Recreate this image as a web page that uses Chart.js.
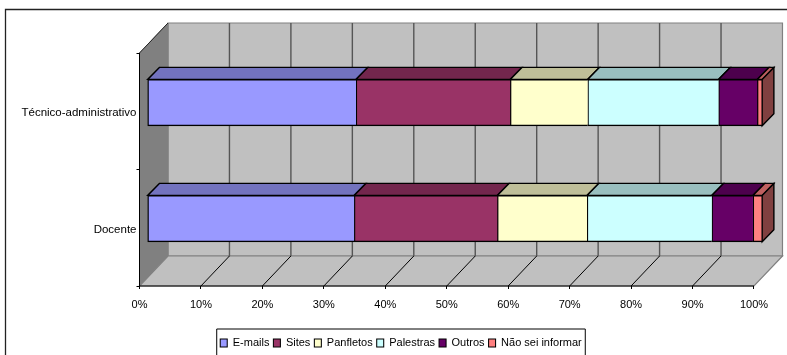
<!DOCTYPE html>
<html>
<head>
<meta charset="utf-8">
<style>html,body{margin:0;padding:0;background:#fff}canvas{display:block}</style>
<script src="https://cdn.jsdelivr.net/npm/chart.js@4"></script>
</head>
<body>
<canvas id="chart" width="787" height="355"></canvas>
<script>
const categories = ['Técnico-administrativo', 'Docente'];
const seriesNames = ['E-mails', 'Sites', 'Panfletos', 'Palestras', 'Outros', 'Não sei informar'];
const emails = [33.9, 33.6];
const sites = [25.1, 23.3];
const panfletos = [12.6, 14.6];
const palestras = [21.3, 20.3];
const outros = [6.3, 6.7];
const naoSei = [0.8, 1.5];
const seriesValues = [emails, sites, panfletos, palestras, outros, naoSei];
const seriesColors = ['#9999FF', '#993366', '#FFFFCC', '#CCFFFF', '#660066', '#FF8080'];
const percentTicks = [0, 10, 20, 30, 40, 50, 60, 70, 80, 90, 100];

const FONT = '"Liberation Sans", Arial, sans-serif';
const LINE = '#000';
// Oblique depth of the chart box and of each bar
const WALL_DX = 28.5, WALL_DY = 30;
const BAR_DX = 11.7, BAR_DY = 12;

function shade(hex, f) {
  const n = parseInt(hex.slice(1), 16);
  const c = [n >> 16, (n >> 8) & 255, n & 255].map(v => Math.round(v * f));
  return `rgb(${c[0]},${c[1]},${c[2]})`;
}

function poly(ctx, pts, fill, stroke, width) {
  ctx.beginPath();
  pts.forEach((p, i) => i ? ctx.lineTo(p[0], p[1]) : ctx.moveTo(p[0], p[1]));
  ctx.closePath();
  if (fill) { ctx.fillStyle = fill; ctx.fill(); }
  if (stroke) { ctx.strokeStyle = stroke; ctx.lineWidth = width; ctx.stroke(); }
}

// Outer frame, legend frame and the three walls of the box behind the bars
const boxPlugin = {
  id: 'box3d',
  beforeDraw(chart) {
    const { ctx, chartArea: a, scales, legend } = chart;
    ctx.save();
    ctx.strokeStyle = '#222';
    ctx.lineWidth = 1.3;
    ctx.beginPath();
    ctx.moveTo(5.5, chart.height);
    ctx.lineTo(5.5, 9.5);
    ctx.lineTo(chart.width, 9.5);
    ctx.stroke();

    const hb = legend.legendHitBoxes;
    const last = hb[hb.length - 1];
    const fl = hb[0].left - 3.5, fr = last.left + last.width + 3.5, ft = legend.top - 4.5;
    ctx.strokeStyle = '#000';
    ctx.lineWidth = 1;
    ctx.beginPath();
    ctx.moveTo(fl, chart.height);
    ctx.lineTo(fl, ft);
    ctx.lineTo(fr, ft);
    ctx.lineTo(fr, chart.height);
    ctx.stroke();

    const x0 = scales.x.getPixelForValue(0), x1 = scales.x.getPixelForValue(100);
    const top = a.top, bot = a.bottom;
    // back wall
    poly(ctx, [[x0 + WALL_DX, top - WALL_DY], [x1 + WALL_DX, top - WALL_DY], [x1 + WALL_DX, bot - WALL_DY], [x0 + WALL_DX, bot - WALL_DY]], '#C0C0C0', '#808080', 1.2);
    // left wall
    poly(ctx, [[x0, top], [x0 + WALL_DX, top - WALL_DY], [x0 + WALL_DX, bot - WALL_DY], [x0, bot]], '#808080', '#808080', 1);
    // floor
    poly(ctx, [[x0, bot], [x1, bot], [x1 + WALL_DX, bot - WALL_DY], [x0 + WALL_DX, bot - WALL_DY]], '#C0C0C0', '#808080', 1.2);
    // top edge of the left wall
    ctx.strokeStyle = '#222';
    ctx.lineWidth = 1;
    ctx.beginPath();
    ctx.moveTo(x0, top);
    ctx.lineTo(x0 + WALL_DX, top - WALL_DY);
    ctx.stroke();

    scales.x.ticks.forEach(t => {
      const px = scales.x.getPixelForValue(t.value);
      if (t.value > 0 && t.value < 100) {
        ctx.strokeStyle = '#555';
        ctx.lineWidth = 1.4;
        ctx.beginPath();
        ctx.moveTo(px + WALL_DX, top - WALL_DY);
        ctx.lineTo(px + WALL_DX, bot - WALL_DY);
        ctx.stroke();
        ctx.strokeStyle = '#000';
        ctx.lineWidth = 1;
        ctx.beginPath();
        ctx.moveTo(px, bot);
        ctx.lineTo(px + WALL_DX, bot - WALL_DY);
        ctx.stroke();
      }
    });
    // front edge of the floor, ending at the 100% tick
    ctx.strokeStyle = LINE;
    ctx.lineWidth = 1.2;
    ctx.beginPath();
    ctx.moveTo(x0, bot);
    ctx.lineTo(x1, bot);
    ctx.stroke();
    ctx.restore();
  },
  // Top faces of every segment and the side face closing each stack
  afterDatasetsDraw(chart) {
    const { ctx } = chart;
    ctx.save();
    ctx.lineJoin = 'miter';
    const count = chart.data.datasets.length;
    chart.data.datasets.forEach((ds, d) => {
      chart.getDatasetMeta(d).data.forEach(bar => {
        const t = bar.y - bar.height / 2, b = bar.y + bar.height / 2;
        const l = bar.base, r = bar.x;
        poly(ctx, [[l, t], [r, t], [r + BAR_DX, t - BAR_DY], [l + BAR_DX, t - BAR_DY]], shade(seriesColors[d], 0.75), LINE, 1.4);
        if (d === count - 1) {
          poly(ctx, [[r, t], [r + BAR_DX, t - BAR_DY], [r + BAR_DX, b - BAR_DY], [r, b]], shade(seriesColors[d], 0.5), LINE, 1.4);
        }
      });
    });
    ctx.restore();
  }
};

new Chart(document.getElementById('chart'), {
  type: 'bar',
  plugins: [boxPlugin],
  data: {
    labels: categories,
    datasets: seriesNames.map((name, i) => ({
      label: name,
      data: seriesValues[i].map((v, c) => ({ x: v, y: c })),
      backgroundColor: seriesColors[i],
      borderColor: LINE,
      borderWidth: { left: 1.4, right: 0, top: 1.4, bottom: 1.4 },
      borderSkipped: false,
      barThickness: 46.4,
      xAxisID: 'xBars',
      yAxisID: 'yBars'
    }))
  },
  options: {
    indexAxis: 'y',
    responsive: false,
    animation: false,
    layout: { padding: { left: 20, right: 5, top: 53, bottom: -3.5 } },
    plugins: {
      tooltip: { enabled: false },
      title: { display: false },
      legend: {
        position: 'bottom',
        labels: {
          boxWidth: 7,
          boxHeight: 8,
          padding: 4,
          color: '#000',
          font: { family: FONT, size: 11 }
        }
      }
    },
    scales: {
      // Front plane of the box: the visible axes
      x: {
        type: 'linear',
        position: 'bottom',
        min: 0,
        max: 104.56,
        afterBuildTicks: s => { s.ticks = percentTicks.map(value => ({ value })); },
        afterFit: s => { s.height = 47.5; s.paddingLeft = 0; s.paddingRight = 0; },
        ticks: {
          autoSkip: false,
          maxRotation: 0,
          padding: 9,
          color: '#000',
          font: { family: FONT, size: 11 },
          callback: v => v + '%'
        },
        grid: { drawOnChartArea: false, tickLength: 3, color: LINE },
        border: { display: false }
      },
      y: {
        type: 'category',
        position: 'left',
        offset: true,
        afterFit: s => { s.width = 119.5; s.paddingTop = 0; s.paddingBottom = 0; },
        ticks: {
          padding: 0,
          labelOffset: 1.6,
          color: '#000',
          font: { family: FONT, size: 11.5 }
        },
        grid: { drawOnChartArea: false, tickLength: 3, color: LINE, offset: true },
        border: { color: LINE, width: 1 }
      },
      // Bars stand inside the box, set back from the front plane
      xBars: { type: 'linear', display: false, stacked: true, position: 'bottom', min: -1.334, max: 103.226 },
      yBars: { type: 'linear', display: false, stacked: true, offset: false, position: 'left', reverse: true, min: -0.4276, max: 1.581 }
    }
  }
});
</script>
</body>
</html>
